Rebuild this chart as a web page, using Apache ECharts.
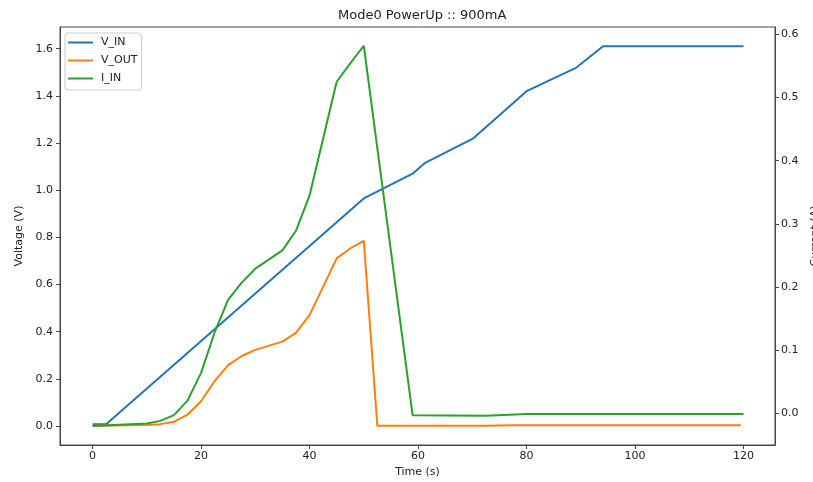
<!DOCTYPE html>
<html>
<head>
<meta charset="utf-8">
<script src="https://cdn.jsdelivr.net/npm/echarts@6/dist/echarts.min.js"></script>
<style>
  html, body { margin: 0; padding: 0; background: #fff; }
  #chart { width: 813px; height: 482px; }
</style>
</head>
<body>
<div id="chart"></div>
<script>
// values
const vinTime = [0, 2.5, 50, 59, 61.3, 70.2, 80, 89.2, 94.1, 120];
const vinValues = [0.007, 0.007, 0.965, 1.07, 1.116, 1.22, 1.42, 1.52, 1.61, 1.61];

const voutTime = [0, 10, 12.5, 15, 17.5, 20, 22.5, 25, 27.5, 30, 35, 37.5, 40, 42.5, 45, 47.5, 50, 52.5, 72.5, 77.5, 119.5];
const voutValues = [0.001, 0.004, 0.008, 0.018, 0.048, 0.105, 0.19, 0.258, 0.297, 0.323, 0.358, 0.395, 0.47, 0.59, 0.711, 0.753, 0.785, 0.001, 0.001, 0.003, 0.003];

const iinTime = [0, 10, 12.5, 15, 17.5, 20, 22.5, 25, 27.5, 30, 35, 37.5, 40, 45, 47.5, 50, 59, 72.5, 80, 120];
const iinValues = [-0.02, -0.016, -0.012, -0.003, 0.02, 0.064, 0.128, 0.18, 0.207, 0.229, 0.258, 0.289, 0.345, 0.525, 0.554, 0.582, -0.003, -0.004, -0.001, -0.001];

const timeTicks = [0, 20, 40, 60, 80, 100, 120];
const voltTicks = [0, 0.2, 0.4, 0.6, 0.8, 1.0, 1.2, 1.4, 1.6];
const currTicks = [0, 0.1, 0.2, 0.3, 0.4, 0.5, 0.6];

const pairs = (xs, ys) => xs.map((x, i) => [x, ys[i]]);

const chart = echarts.init(document.getElementById('chart'));

const font = 'DejaVu Sans';
const axisColor = '#444';
const textColor = '#222';

const option = {
  animation: false,
  textStyle: { fontFamily: font },
  title: {
    text: 'Mode0 PowerUp :: 900mA',
    left: 333,
    top: 4,
    textStyle: { fontFamily: font, fontSize: 13, fontWeight: 'normal', color: textColor }
  },
  legend: {
    orient: 'vertical',
    left: 65,
    top: 33,
    padding: [3, 4, 5, 3],
    icon: 'rect',
    itemWidth: 25,
    itemHeight: 2,
    itemGap: 5,
    borderColor: '#ccc',
    borderWidth: 1,
    borderRadius: 3,
    backgroundColor: 'rgba(255,255,255,0.8)',
    textStyle: { fontFamily: font, fontSize: 11, color: textColor, lineHeight: 13, padding: [0, 0, 0, 3] },
    data: ['V_IN', 'V_OUT', 'I_IN']
  },
  grid: {
    left: 60, right: 38, top: 27, bottom: 37,
    outerBoundsMode: 'none',
    show: true,
    borderColor: axisColor,
    borderWidth: 1
  },
  xAxis: {
    type: 'value',
    min: -6,
    max: 125.8,
    name: 'Time (s)',
    nameLocation: 'middle',
    nameGap: 21,
    nameTextStyle: { fontFamily: font, fontSize: 11, color: textColor },
    axisLine: { show: true, onZero: false, lineStyle: { color: axisColor } },
    axisTick: { show: true, length: 4, customValues: timeTicks, lineStyle: { color: axisColor } },
    axisLabel: { customValues: timeTicks, margin: 6, fontSize: 11, color: textColor, fontFamily: font },
    splitLine: { show: false }
  },
  yAxis: [
    {
      type: 'value',
      min: -0.0805,
      max: 1.692,
      name: 'Voltage (V)',
      nameLocation: 'middle',
      nameRotate: 90,
      nameGap: 29,
      nameTextStyle: { fontFamily: font, fontSize: 11, color: textColor },
      axisLine: { show: true, onZero: false, lineStyle: { color: axisColor } },
      axisTick: { show: true, length: 4, customValues: voltTicks, lineStyle: { color: axisColor } },
      axisLabel: {
        customValues: voltTicks, margin: 7, fontSize: 11, color: textColor, fontFamily: font,
        formatter: v => v.toFixed(1)
      },
      splitLine: { show: false }
    },
    {
      type: 'value',
      position: 'right',
      min: -0.0502,
      max: 0.6117,
      name: 'Current (A)',
      nameLocation: 'middle',
      nameRotate: 90,
      nameGap: 28,
      nameTextStyle: { fontFamily: font, fontSize: 11, color: textColor },
      axisLine: { show: true, onZero: false, lineStyle: { color: axisColor } },
      axisTick: { show: true, length: 4, customValues: currTicks, lineStyle: { color: axisColor } },
      axisLabel: {
        customValues: currTicks, margin: 6, fontSize: 11, color: textColor, fontFamily: font,
        formatter: v => v.toFixed(1)
      },
      splitLine: { show: false }
    }
  ],
  series: [
    {
      name: 'V_IN',
      type: 'line',
      yAxisIndex: 0,
      symbol: 'none',
      data: pairs(vinTime, vinValues),
      itemStyle: { color: '#1f77b4' },
      lineStyle: { color: '#1f77b4', width: 2 }
    },
    {
      name: 'V_OUT',
      type: 'line',
      yAxisIndex: 0,
      symbol: 'none',
      data: pairs(voutTime, voutValues),
      itemStyle: { color: '#ff7f0e' },
      lineStyle: { color: '#ff7f0e', width: 2 }
    },
    {
      name: 'I_IN',
      type: 'line',
      yAxisIndex: 1,
      symbol: 'none',
      data: pairs(iinTime, iinValues),
      itemStyle: { color: '#2ca02c' },
      lineStyle: { color: '#2ca02c', width: 2 }
    }
  ]
};

chart.setOption(option);
</script>
</body>
</html>
